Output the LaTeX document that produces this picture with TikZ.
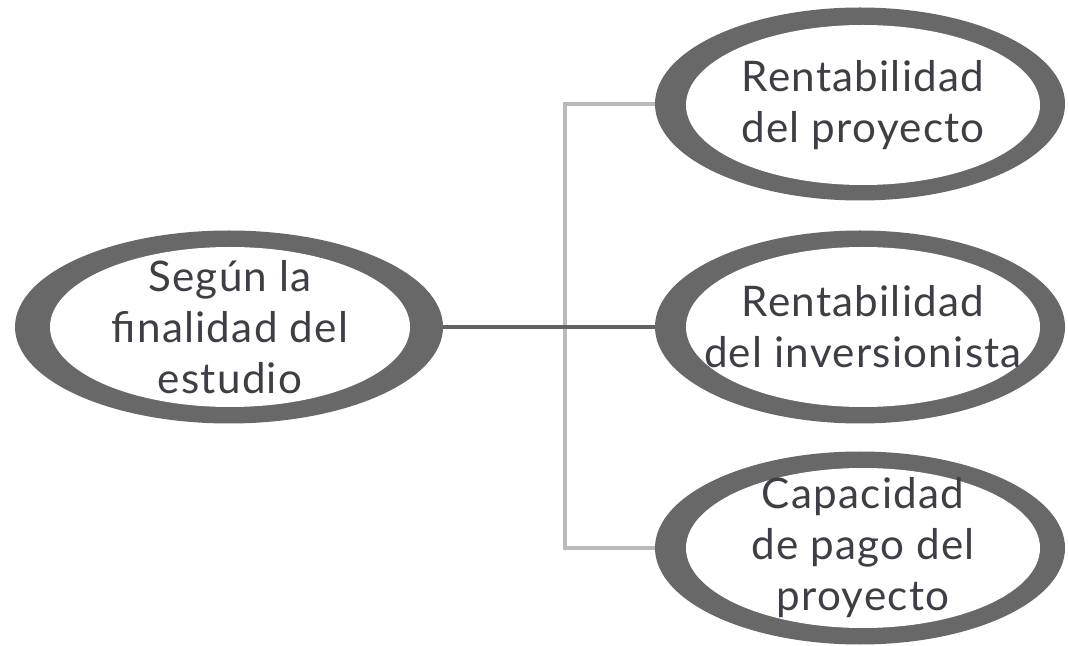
\documentclass[tikz,border=0pt]{standalone}
\usepackage{fontspec}
\setmainfont{Lato}[LetterSpace=3]
\usetikzlibrary{shapes.geometric}
\definecolor{ringgray}{RGB}{104,104,104}
\definecolor{txtgray}{RGB}{62,62,70}
\definecolor{linkdark}{RGB}{98,98,98}
\definecolor{linklight}{RGB}{186,186,186}

\begin{document}
\begin{tikzpicture}

      \useasboundingbox (0,0) rectangle (21.36,12.9);

      % outer rings
      \begin{scope}[every node/.style={ellipse, fill=ringgray, inner sep=0pt, minimum height=3.86cm}]
        \node[minimum width=8.56cm] (r0) at (4.58,6.36)  {};
        \node[minimum width=8.2cm]  (r1) at (17.2,10.82) {};
        \node[minimum width=8.2cm]  (r2) at (17.2,6.36)  {};
        \node[minimum width=8.2cm]  (r3) at (17.2,1.94)  {};
      \end{scope}

      % white faces
      \begin{scope}[every node/.style={ellipse, fill=white, inner sep=0pt, minimum height=3.2cm}]
        \node[minimum width=7.2cm]  (f0) at (4.6,6.36)   {};
        \node[minimum width=7.08cm] (f1) at (17.26,10.8) {};
        \node[minimum width=7.08cm] (f2) at (17.26,6.36) {};
        \node[minimum width=7.08cm] (f3) at (17.26,1.94) {};
      \end{scope}

      % labels
      \begin{scope}[every node/.style={align=center, text=txtgray, inner sep=0pt,
                    font=\fontsize{24}{29}\selectfont}]
        \node (0) at (f0) {Según la\\finalidad del\\estudio};
        \node (1) at (f1) {Rentabilidad\\del proyecto};
        \node (2) at (f2) {Rentabilidad\\del inversionista};
        \node (3) at (f3) {Capacidad\\de pago del\\proyecto};
      \end{scope}

      \coordinate (j) at (11.3,6.36);

      \draw[linklight, line width=2.2pt]
        (r1.west) -- (r1.west -| j) -- (r3.west -| j) -- (r3.west);
      \draw[linkdark, line width=1.8pt] (r0.east) -- (r2.west);

    \end{tikzpicture}
\end{document}
